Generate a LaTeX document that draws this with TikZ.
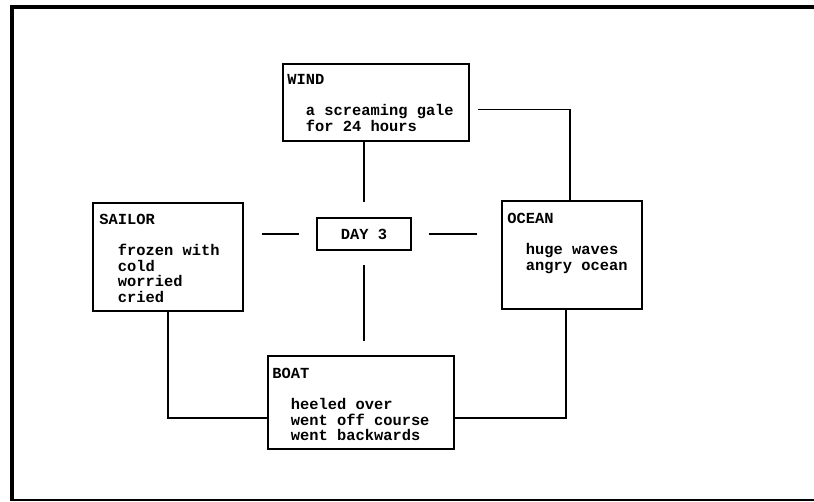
\documentclass[tikz,border=0pt]{standalone}
\usepackage{fontspec}
\usepackage{tikz}
\newfontfamily\memofamily{Liberation Mono}
\newcommand\memofont{\memofamily\bfseries\fontsize{15.4}{15.5}\selectfont}
\newcommand\tabin{\hphantom{mm}}

\begin{document}
\begin{tikzpicture}[x=1pt, y=-1pt]
		\tikzset{card/.style={shape = rectangle, draw, line width = 1.6pt, inner sep = 0pt}}
		\tikzset{memo/.style={anchor = north west, align = left, inner sep = 0pt, font = \memofont}}
		\tikzset{link/.style={line width = 1.6pt}}
		\useasboundingbox (0, 0) rectangle (814, 502);
		%frame
		\draw[line width = 4pt] (814, 7.5) -- (12, 7.5) -- (12, 500);
		\draw[line width = 2pt] (10, 500) -- (814, 500);
		%boxes
		\node[card, minimum width = 186pt, minimum height = 77pt] (wind) at (376, 102.5) {};
		\node[card, minimum width = 150pt, minimum height = 108pt] (sailor) at (168, 257) {};
		\node[card, minimum width = 94pt, minimum height = 32pt, font = \memofont] (day) at (364, 234) {DAY 3};
		\node[card, minimum width = 140pt, minimum height = 108pt] (ocean) at (572, 255) {};
		\node[card, minimum width = 186pt, minimum height = 93pt] (boat) at (361, 402.5) {};
		%texts
		\node[memo] (windtxt) at ([shift={(5pt, -11pt)}]wind.north west)
			{WIND\\[15.5pt]\tabin a screaming gale\\\tabin for 24 hours};
		\node[memo] (sailortxt) at ([shift={(7pt, -12pt)}]sailor.north west)
			{SAILOR\\[15.5pt]\tabin frozen with\\\tabin cold\\\tabin worried\\\tabin cried};
		\node[memo] (oceantxt) at ([shift={(6pt, -13pt)}]ocean.north west)
			{OCEAN\\[15.5pt]\tabin huge waves\\\tabin angry ocean};
		\node[memo] (boattxt) at ([shift={(5pt, -13pt)}]boat.north west)
			{BOAT\\[15.5pt]\tabin heeled over\\\tabin went off course\\\tabin went backwards};
		%links
		\draw[link, shorten > = 15pt] (day.north |- wind.south) -- (day.north);
		\draw[link, shorten < = 18pt, shorten > = 17pt] (sailor.east |- day.west) -- (day.west);
		\draw[link, shorten < = 17pt, shorten > = 24pt] (day.east) -- (ocean.west |- day.east);
		\draw[link, shorten < = 14pt, shorten > = 14pt] (day.south) -- (day.south |- boat.north);
		\draw[link, shorten < = 8pt] ([yshift = -7pt]wind.east) -| ([xshift = -2pt]ocean.north);
		\draw[link] (sailor.south) |- ([yshift = -15.5pt]boat.west);
		\draw[link] ([xshift = -6pt]ocean.south) |- ([yshift = -15.5pt]boat.east);
		\end{tikzpicture}
\end{document}
